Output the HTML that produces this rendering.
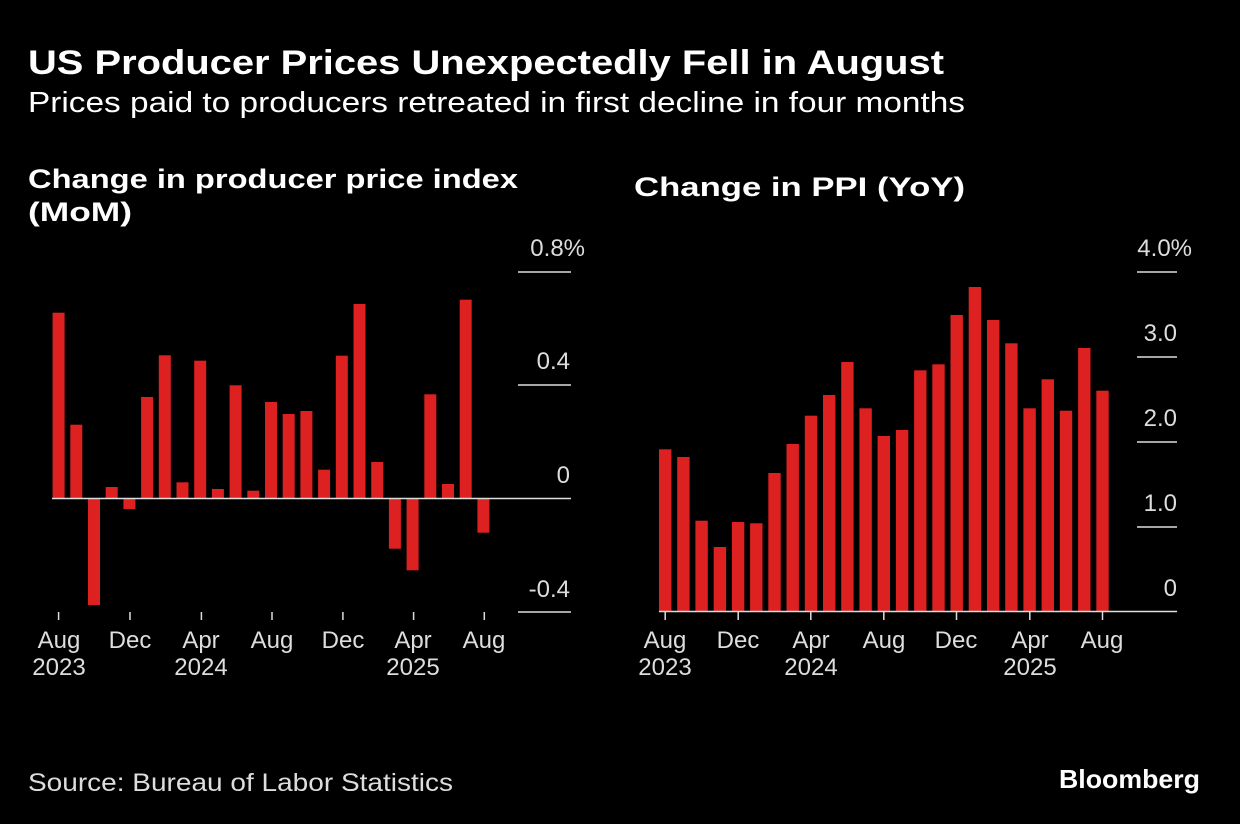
<!DOCTYPE html>
<html><head><meta charset="utf-8"><style>
html,body{margin:0;padding:0;background:#000;}
svg{display:block;}
text{font-family:"Liberation Sans",sans-serif;}
</style></head><body>
<svg width="1240" height="824" viewBox="0 0 1240 824" xmlns="http://www.w3.org/2000/svg">
<rect width="1240" height="824" fill="#000"/>
<text x="28" y="74" fill="#fff" font-size="34" font-weight="bold" textLength="916" lengthAdjust="spacingAndGlyphs">US Producer Prices Unexpectedly Fell in August</text>
<text x="28" y="112" fill="#fff" font-size="29" textLength="937" lengthAdjust="spacingAndGlyphs">Prices paid to producers retreated in first decline in four months</text>
<text x="28" y="188" fill="#fff" font-size="27" font-weight="bold" textLength="490" lengthAdjust="spacingAndGlyphs">Change in producer price index</text>
<text x="28" y="221" fill="#fff" font-size="27" font-weight="bold" textLength="104" lengthAdjust="spacingAndGlyphs">(MoM)</text>
<text x="634" y="196" fill="#fff" font-size="27" font-weight="bold" textLength="331" lengthAdjust="spacingAndGlyphs">Change in PPI (YoY)</text>

<g fill="#dddddd" font-size="24" text-anchor="end">
<text x="585" y="256">0.8%</text>
<text x="570" y="369">0.4</text>
<text x="570" y="483">0</text>
<text x="570" y="597">-0.4</text>
<text x="1192" y="256">4.0%</text>
<text x="1177" y="341">3.0</text>
<text x="1177" y="426">2.0</text>
<text x="1177" y="511">1.0</text>
<text x="1177" y="596">0</text>
</g>
<g stroke="#dddddd" stroke-width="1.5">
<line x1="518" x2="571" y1="272" y2="272"/>
<line x1="518" x2="571" y1="385" y2="385"/>
<line x1="518" x2="571" y1="612" y2="612"/>
<line x1="1137" x2="1177" y1="272" y2="272"/>
<line x1="1137" x2="1177" y1="357" y2="357"/>
<line x1="1137" x2="1177" y1="442" y2="442"/>
<line x1="1137" x2="1177" y1="527" y2="527"/>
</g>

<g stroke="#dddddd" stroke-width="1.5">
<line x1="58.6" x2="58.6" y1="612" y2="620"/><line x1="130" x2="130" y1="612" y2="620"/><line x1="201.4" x2="201.4" y1="612" y2="620"/><line x1="272" x2="272" y1="612" y2="620"/><line x1="342.9" x2="342.9" y1="612" y2="620"/><line x1="413.6" x2="413.6" y1="612" y2="620"/><line x1="484.3" x2="484.3" y1="612" y2="620"/>
<line x1="665.2" x2="665.2" y1="612" y2="620"/><line x1="738.2" x2="738.2" y1="612" y2="620"/><line x1="810.8" x2="810.8" y1="612" y2="620"/><line x1="883.8" x2="883.8" y1="612" y2="620"/><line x1="956.5" x2="956.5" y1="612" y2="620"/><line x1="1029.8" x2="1029.8" y1="612" y2="620"/><line x1="1102.5" x2="1102.5" y1="612" y2="620"/>
</g>
<g fill="#dddddd" font-size="24" text-anchor="middle">
<text x="59" y="648">Aug</text><text x="59" y="675">2023</text>
<text x="130" y="648">Dec</text>
<text x="201" y="648">Apr</text><text x="201" y="675">2024</text>
<text x="272" y="648">Aug</text>
<text x="343" y="648">Dec</text>
<text x="413" y="648">Apr</text><text x="413" y="675">2025</text>
<text x="484" y="648">Aug</text>
<text x="665" y="648">Aug</text><text x="665" y="675">2023</text>
<text x="738" y="648">Dec</text>
<text x="811" y="648">Apr</text><text x="811" y="675">2024</text>
<text x="884" y="648">Aug</text>
<text x="956" y="648">Dec</text>
<text x="1030" y="648">Apr</text><text x="1030" y="675">2025</text>
<text x="1102" y="648">Aug</text>
</g>
<text x="28" y="791" fill="#dddddd" font-size="25" textLength="425" lengthAdjust="spacingAndGlyphs">Source: Bureau of Labor Statistics</text>
<text x="1200" y="788" fill="#fff" font-size="26" font-weight="bold" text-anchor="end" textLength="141" lengthAdjust="spacingAndGlyphs">Bloomberg</text>

<g fill="#dd2020">
<rect x="52.6" y="312.7" width="12" height="185.8"/>
<rect x="70.3" y="424.7" width="12" height="73.8"/>
<rect x="88" y="498.5" width="12" height="106.5"/>
<rect x="105.7" y="487" width="12" height="11.5"/>
<rect x="123.4" y="498.5" width="12" height="10.5"/>
<rect x="141.1" y="397" width="12" height="101.5"/>
<rect x="158.8" y="355.3" width="12" height="143.2"/>
<rect x="176.5" y="482.3" width="12" height="16.2"/>
<rect x="194.2" y="360.7" width="12" height="137.8"/>
<rect x="211.9" y="489" width="12" height="9.5"/>
<rect x="229.6" y="385.3" width="12" height="113.2"/>
<rect x="247.3" y="490.7" width="12" height="7.8"/>
<rect x="265" y="402" width="12" height="96.5"/>
<rect x="282.7" y="414" width="12" height="84.5"/>
<rect x="300.4" y="411" width="12" height="87.5"/>
<rect x="318.1" y="469.7" width="12" height="28.8"/>
<rect x="335.8" y="355.7" width="12" height="142.8"/>
<rect x="353.5" y="304" width="12" height="194.5"/>
<rect x="371.2" y="462" width="12" height="36.5"/>
<rect x="388.9" y="498.5" width="12" height="50.2"/>
<rect x="406.6" y="498.5" width="12" height="71.8"/>
<rect x="424.3" y="394.3" width="12" height="104.2"/>
<rect x="442" y="484" width="12" height="14.5"/>
<rect x="459.7" y="299.7" width="12" height="198.8"/>
<rect x="477.4" y="498.5" width="12" height="34.2"/>
</g>
<g fill="#dd2020">
<rect x="659" y="449.3" width="12.4" height="162.2"/>
<rect x="677.2" y="457" width="12.4" height="154.5"/>
<rect x="695.4" y="520.7" width="12.4" height="90.8"/>
<rect x="713.7" y="547" width="12.4" height="64.5"/>
<rect x="731.9" y="522" width="12.4" height="89.5"/>
<rect x="750.1" y="523.3" width="12.4" height="88.2"/>
<rect x="768.3" y="473" width="12.4" height="138.5"/>
<rect x="786.5" y="444" width="12.4" height="167.5"/>
<rect x="804.8" y="415.7" width="12.4" height="195.8"/>
<rect x="823" y="395" width="12.4" height="216.5"/>
<rect x="841.2" y="362" width="12.4" height="249.5"/>
<rect x="859.4" y="408.3" width="12.4" height="203.2"/>
<rect x="877.6" y="436" width="12.4" height="175.5"/>
<rect x="895.9" y="430" width="12.4" height="181.5"/>
<rect x="914.1" y="370.3" width="12.4" height="241.2"/>
<rect x="932.3" y="364.3" width="12.4" height="247.2"/>
<rect x="950.5" y="315" width="12.4" height="296.5"/>
<rect x="968.7" y="287" width="12.4" height="324.5"/>
<rect x="987" y="320" width="12.4" height="291.5"/>
<rect x="1005.2" y="343.3" width="12.4" height="268.2"/>
<rect x="1023.4" y="408.3" width="12.4" height="203.2"/>
<rect x="1041.6" y="379.3" width="12.4" height="232.2"/>
<rect x="1059.8" y="410.7" width="12.4" height="200.8"/>
<rect x="1078.1" y="348" width="12.4" height="263.5"/>
<rect x="1096.3" y="390.7" width="12.4" height="220.8"/>
</g>
<line x1="52" x2="571" y1="498.5" y2="498.5" stroke="#dddddd" stroke-width="1.5"/>
<line x1="659" x2="1177" y1="611.5" y2="611.5" stroke="#dddddd" stroke-width="1.5"/>
</svg>
</body></html>
